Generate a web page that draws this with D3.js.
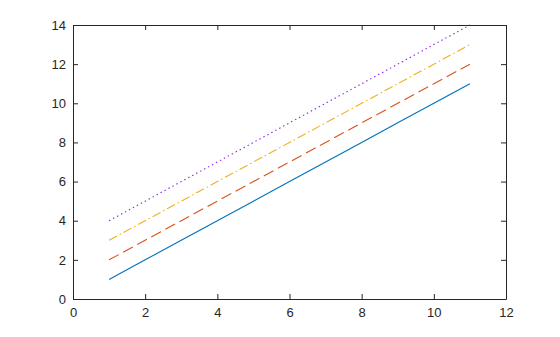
<!DOCTYPE html>
<html>
<head>
<meta charset="UTF-8" />
<script src="https://d3js.org/d3.v7.min.js"></script>
<style>
  body { margin: 0; background: #fff; }
  svg { display: block; }
</style>
</head>
<body>
<svg width="560" height="337"></svg>
<script>
// data: four parallel lines
const xs = [1, 2, 3, 4, 5, 6, 7, 8, 9, 10, 11];
const y1 = [1, 2, 3, 4, 5, 6, 7, 8, 9, 10, 11];
const y2 = [2, 3, 4, 5, 6, 7, 8, 9, 10, 11, 12];
const y3 = [3, 4, 5, 6, 7, 8, 9, 10, 11, 12, 13];
const y4 = [4, 5, 6, 7, 8, 9, 10, 11, 12, 13, 14];
const xTicks = [0, 2, 4, 6, 8, 10, 12];
const yTicks = [0, 2, 4, 6, 8, 10, 12, 14];

const series = [
  { ys: y1, color: "#0072BD", dash: null },
  { ys: y2, color: "#D95319", dash: "11,5" },
  { ys: y3, color: "#EDB120", dash: "9,3,1.5,3" },
  { ys: y4, color: "#8B2BE2", dash: "1.5,3" }
];

const svg = d3.select("svg");
const m = { left: 73, right: 506, top: 25, bottom: 299 };
const x = d3.scaleLinear().domain([0, 12]).range([m.left, m.right]);
const y = d3.scaleLinear().domain([0, 14]).range([m.bottom, m.top]);

// lines
const line = d3.line().x((d, i) => x(xs[i])).y(d => y(d));
series.forEach(s => {
  svg.append("path")
    .datum(s.ys)
    .attr("d", line)
    .attr("fill", "none")
    .attr("stroke", s.color)
    .attr("stroke-width", 1.1)
    .attr("stroke-dasharray", s.dash);
});

// axes
const tk = 5;
svg.append("g")
  .attr("transform", `translate(0,${m.bottom})`)
  .call(d3.axisBottom(x).tickValues(xTicks).tickSize(-tk).tickPadding(9).tickSizeOuter(0));
svg.append("g")
  .attr("transform", `translate(${m.left},0)`)
  .call(d3.axisLeft(y).tickValues(yTicks).tickSize(-tk).tickPadding(7).tickSizeOuter(0));
svg.append("g")
  .attr("transform", `translate(0,${m.top})`)
  .call(d3.axisTop(x).tickValues(xTicks).tickSize(-tk).tickFormat("").tickSizeOuter(0));
svg.append("g")
  .attr("transform", `translate(${m.right},0)`)
  .call(d3.axisRight(y).tickValues(yTicks).tickSize(-tk).tickFormat("").tickSizeOuter(0));

svg.selectAll(".domain, .tick line").attr("stroke", "#262626");
svg.selectAll(".tick text")
  .attr("font-size", 13)
  .attr("font-family", "Arial, 'Liberation Sans', sans-serif")
  .attr("fill", "#262626");
</script>
</body>
</html>
